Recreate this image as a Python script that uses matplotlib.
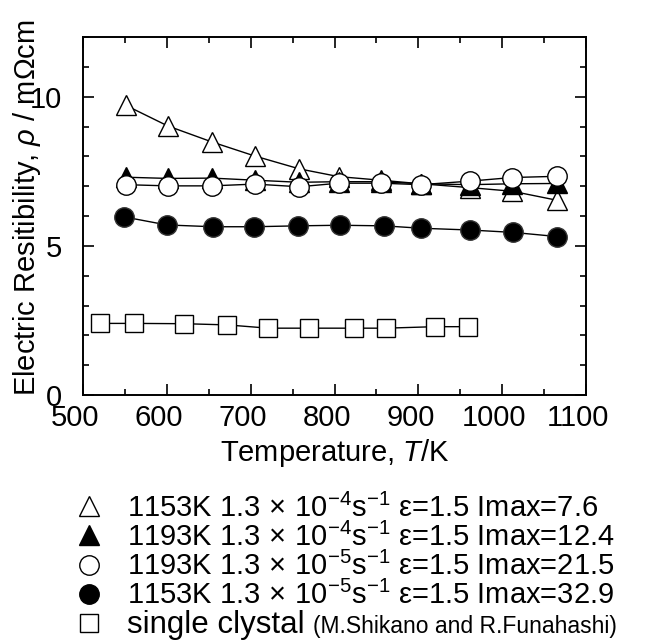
import matplotlib
matplotlib.use('Agg')
import matplotlib.pyplot as plt
import matplotlib.transforms as mtransforms
from matplotlib.lines import Line2D
from matplotlib.ticker import MultipleLocator

plt.rcParams['font.family'] = ['Liberation Sans', 'DejaVu Sans']
plt.rcParams['mathtext.fontset'] = 'custom'
plt.rcParams['mathtext.rm'] = 'Liberation Sans'
plt.rcParams['mathtext.it'] = 'Liberation Sans:italic'
plt.rcParams['mathtext.sf'] = 'Liberation Sans'

# 数据
temp_tri = [551, 601, 654, 705, 758, 805, 855, 903, 962, 1012, 1065]
rho_open_tri = [9.71, 9.02, 8.48, 8.01, 7.58, 7.32, 7.20, 7.08, 6.95, 6.83, 6.53]
rho_fill_tri = [7.30, 7.26, 7.27, 7.20, 7.13, 7.15, 7.15, 7.08, 7.05, 7.08, 7.09]
temp_circ = [551, 601, 654, 705, 758, 805, 856, 903, 962, 1012, 1065]
rho_open_circ = [7.05, 7.01, 7.01, 7.07, 6.98, 7.10, 7.10, 7.05, 7.17, 7.29, 7.33]
temp_fill_circ = [549, 600, 655, 704, 756, 806, 859, 903, 962, 1013, 1066]
rho_fill_circ = [5.97, 5.70, 5.64, 5.64, 5.67, 5.69, 5.67, 5.59, 5.53, 5.45, 5.31]
temp_sq = [520, 561, 620, 672, 721, 770, 823, 861, 920, 959]
rho_sq = [2.40, 2.40, 2.39, 2.35, 2.24, 2.24, 2.24, 2.24, 2.29, 2.29]

legend_labels = [
    r'1153K 1.3$\,\times\,$10$^{-4}$s$^{-1}$ ε=1.5 Imax=7.6',
    r'1193K 1.3$\,\times\,$10$^{-4}$s$^{-1}$ ε=1.5 Imax=12.4',
    r'1193K 1.3$\,\times\,$10$^{-5}$s$^{-1}$ ε=1.5 Imax=21.5',
    r'1153K 1.3$\,\times\,$10$^{-5}$s$^{-1}$ ε=1.5 Imax=32.9',
    'single clystal',
]
legend_note = '(M.Shikano and R.Funahashi)'

W, H = 652, 641
fig = plt.figure(figsize=(W / 100, H / 100), dpi=100)
ax = fig.add_axes([83 / W, 1 - 395 / H, (586 - 83) / W, (395 - 37) / H])

lw = 1.0
ax.plot(temp_tri, rho_open_tri, '-^', color='black', mfc='white', mec='black',
        ms=14.5, mew=1.0, lw=lw, zorder=2)
ax.plot(temp_tri, rho_fill_tri, '-^', color='black', mfc='black', mec='black',
        ms=14.5, mew=1.0, lw=lw, zorder=3)
ax.plot(temp_fill_circ, rho_fill_circ, '-o', color='black', mfc='black', mec='#333333',
        ms=14, mew=1.0, lw=lw, zorder=4)
ax.plot(temp_circ, rho_open_circ, '-o', color='black', mfc='white', mec='black',
        ms=14, mew=1.0, lw=lw, zorder=5)
ax.plot(temp_sq, rho_sq, '-s', color='black', mfc='white', mec='black',
        ms=13, mew=1.0, lw=lw, zorder=2)

ax.set_xlim(500, 1100)
ax.set_ylim(0, 12)
ax.xaxis.set_major_locator(MultipleLocator(100))
ax.xaxis.set_minor_locator(MultipleLocator(50))
ax.yaxis.set_major_locator(MultipleLocator(5))
ax.yaxis.set_minor_locator(MultipleLocator(1))
ax.tick_params(which='both', direction='in', top=True, right=True, width=1.2)
ax.tick_params(which='major', length=8)
ax.tick_params(which='minor', length=4)
ax.tick_params(axis='x', which='major', labelsize=21, pad=6.5)
ax.tick_params(axis='y', which='major', labelsize=21, pad=15)
for sp in ax.spines.values():
    sp.set_linewidth(1.4)

# x 轴刻度标签略向左偏
fig.canvas.draw()
shift = mtransforms.ScaledTranslation(-8 / 100, 0, fig.dpi_scale_trans)
for t in ax.xaxis.get_major_ticks():
    t.label1.set_transform(t.label1.get_transform() + shift)

fig.text(334.5 / W, 1 - 461 / H, r'Temperature, $T$/K', fontsize=21,
         ha='center', va='baseline')
fig.text(35 / W, 1 - 207.5 / H, r'Electric Resitibility, $\rho$ / mΩcm', fontsize=21,
         rotation=90, rotation_mode='anchor', ha='center', va='baseline')

# 图例（画在坐标轴下方）
styles = [
    dict(marker='^', mfc='white', ms=14.5),
    dict(marker='^', mfc='black', ms=14.5),
    dict(marker='o', mfc='white', ms=14),
    dict(marker='o', mfc='black', ms=14),
    dict(marker='s', mfc='white', ms=13),
]
sizes = [21, 21, 21, 21, 22.5]
baselines = [516.7, 545.7, 575, 604, 633]
renderer = fig.canvas.get_renderer()
for lab, st, fs, b in zip(legend_labels, styles, sizes, baselines):
    yc = 1 - (b - 10.5) / H
    fig.add_artist(Line2D([89 / W], [yc], transform=fig.transFigure, ls='none',
                          color='black', mec='black', mew=1.0, **st))
    txt = fig.text(127 / W, 1 - b / H, lab, fontsize=fs, ha='left', va='baseline')

bb = txt.get_window_extent(renderer)
fig.text((bb.x1 + 8) / W, 1 - baselines[-1] / H, legend_note, fontsize=16.5,
         ha='left', va='baseline')

fig.savefig('out.png', dpi=100)
